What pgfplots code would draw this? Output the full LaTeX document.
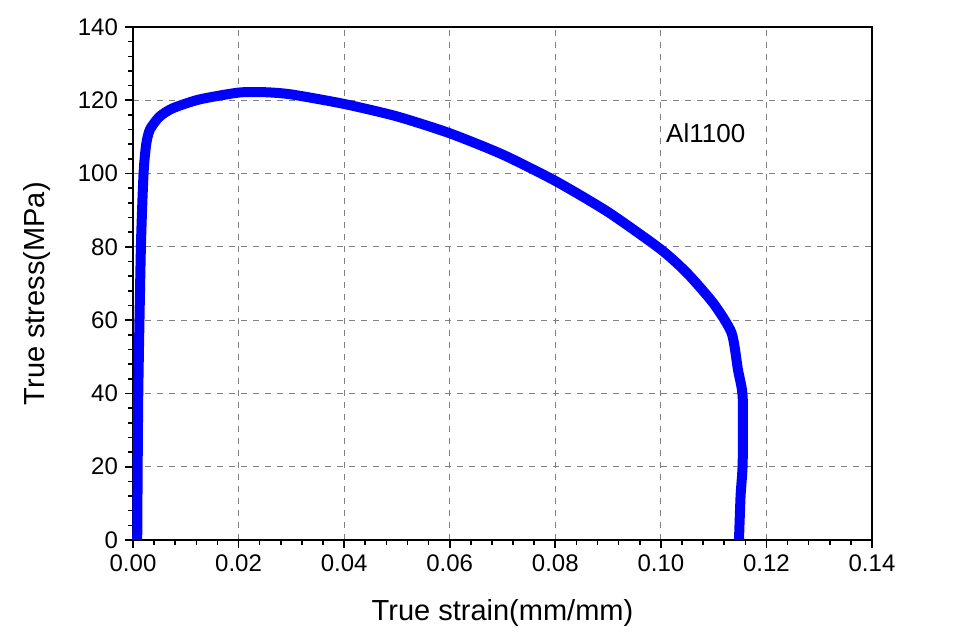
\documentclass[border=0pt]{standalone}
\usepackage{pgfplots}
\pgfplotsset{compat=1.18}
\usepackage{fontspec}
\setmainfont{Liberation Sans}
\begin{document}
\begin{tikzpicture}
\begin{axis}[
  at={(0,0)}, anchor=south west,
  scale only axis,
  width=369.5pt, height=256.5pt,
  xmin=0, xmax=0.14, ymin=0, ymax=140,
  xtick={0,0.02,...,0.14},
  ytick={0,20,...,140},
  minor x tick num=4, minor y tick num=4,
  xticklabel style={/pgf/number format/.cd, fixed, fixed zerofill, precision=2},
  /pgf/number format/assume math mode=true,
  scaled x ticks=false,
  tick align=outside,
  xtick pos=bottom, ytick pos=left,
  major tick length=4pt, minor tick length=2.5pt,
  tick style={black, line width=0.8pt},
  axis line style={line width=1.2pt},
  grid=major,
  major grid style={gray, dashed, line width=0.5pt},
  ticklabel style={font=\fontsize{12}{14}\selectfont},
  xlabel={True strain(mm/mm)},
  ylabel={True stress(MPa)},
  label style={font=\fontsize{14.5}{17}\selectfont},
  xlabel style={at={(axis description cs:0.5,-0.142)}, anchor=center},
  ylabel style={at={(axis description cs:-0.13,0.48)}, anchor=center},
  clip=false,
]
\addplot[blue, line width=5pt, line join=round, smooth, tension=0.4] coordinates {
(0.0008,0) (0.0010,40) (0.0015,80) (0.0020,100) (0.0025,108) (0.0032,112)
(0.0050,115.5) (0.0075,117.8) (0.0125,120.2) (0.0200,122.1) (0.0250,122.2)
(0.0300,121.6) (0.0400,119.0) (0.0500,115.6) (0.0600,111.0)
(0.0700,105.2) (0.0800,98.0) (0.0900,89.5) (0.1000,79.3) (0.1050,72.8)
(0.1100,64.5) (0.1134,56.5) (0.1146,46.5) (0.1155,39.0) (0.1155,21.0)
(0.1151,12.0) (0.1148,0)
};
\node[font=\fontsize{13}{15}\selectfont] at (axis cs:0.1085,111) {Al1100};
\end{axis}
\pgfresetboundingbox
\path (-66.5pt,-50.5pt) rectangle (412pt,270pt);
\end{tikzpicture}
\end{document}
